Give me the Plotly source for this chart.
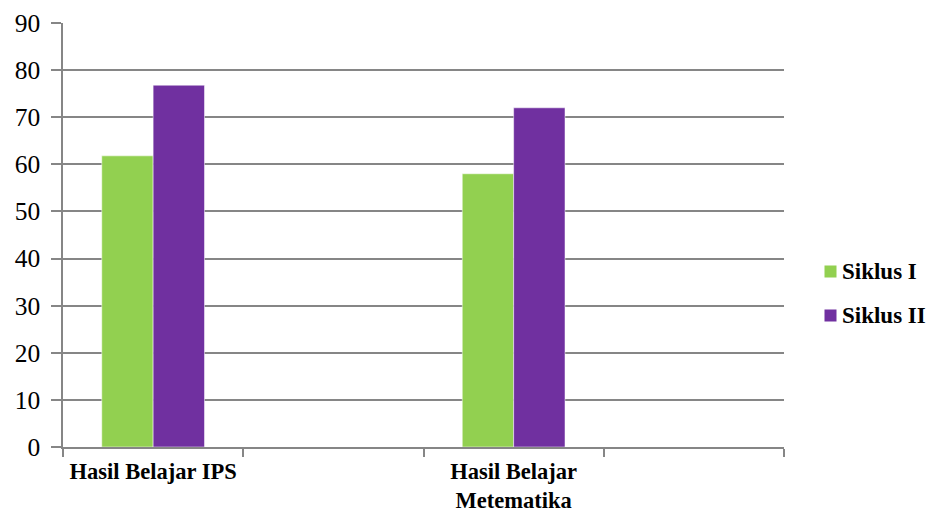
import plotly.graph_objects as go

# Category slots (two empty slots keep the original spacing)
categories = ["Hasil Belajar IPS", " ", "Hasil Belajar<br>Metematika", "  "]
siklus_1 = [61.8, None, 58.0, None]
siklus_2 = [76.8, None, 72.0, None]
y_ticks = [0, 10, 20, 30, 40, 50, 60, 70, 80, 90]
series_names = ["Siklus I", "Siklus II"]
series_colors = ["#92D050", "#7030A0"]

grid_color = "#868686"
serif = "Liberation Serif"

fig = go.Figure()
for name, color, values in zip(series_names, series_colors, [siklus_1, siklus_2]):
    fig.add_trace(go.Bar(x=categories, y=values, name=name, showlegend=False,
                         marker=dict(color=color, line=dict(color="white", width=0.5))))

# Legend on the right: a colour swatch followed by the bold series name
legend_y = [0.413, 0.311]
for name, color, ly in zip(series_names, series_colors, legend_y):
    fig.add_annotation(xref="paper", yref="paper", x=1.0555, y=ly,
                       xanchor="left", yanchor="middle", text=" ", showarrow=False,
                       width=11, height=11, bgcolor=color, borderpad=0)
    fig.add_annotation(xref="paper", yref="paper", x=1.079, y=ly,
                       xanchor="left", yanchor="middle", text=f"<b>{name}</b>",
                       showarrow=False, borderpad=0,
                       font=dict(family=serif, size=23, color="black"))

fig.update_layout(
    width=934, height=516,
    margin=dict(l=63, r=150, t=23, b=69, autoexpand=False),
    paper_bgcolor="white", plot_bgcolor="white",
    barmode="group", bargap=0.43, bargroupgap=0,
    font=dict(family=serif, color="black"),
    xaxis=dict(
        type="category", categoryorder="array", categoryarray=categories,
        tickson="boundaries", ticks="outside", ticklen=8, tickcolor=grid_color,
        tickwidth=1.5, showline=True, linecolor=grid_color, linewidth=1.5,
        showgrid=False, ticklabelstandoff=3, automargin=False, tickangle=0,
        tickfont=dict(family=serif, size=22.5, color="black", weight="bold"),
    ),
    yaxis=dict(
        range=[0, 90], tickvals=y_ticks, ticks="outside", ticklen=10,
        tickcolor=grid_color, tickwidth=1.5, showgrid=True, gridcolor=grid_color,
        gridwidth=1.5, showline=True, linecolor=grid_color, linewidth=1.5,
        zeroline=False, ticklabelstandoff=6, automargin=False,
        tickfont=dict(family=serif, size=25.5, color="black"),
    ),
)

fig.write_html("out.html")
